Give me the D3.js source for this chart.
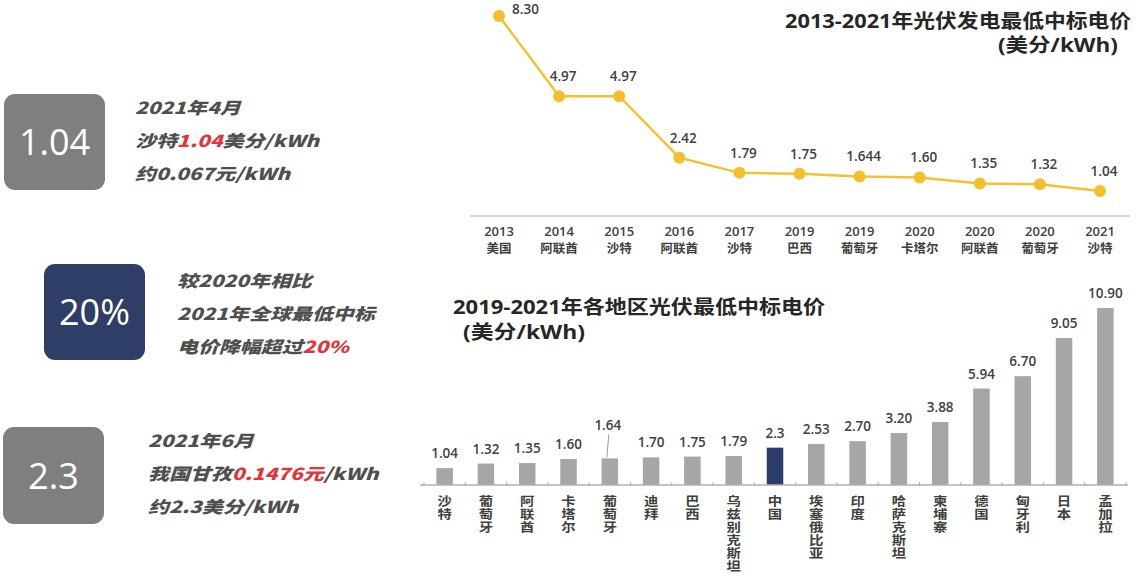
<!DOCTYPE html>
<html>
<head>
<meta charset="utf-8">
<script src="https://cdn.jsdelivr.net/npm/d3@7"></script>
<style>
  body { margin: 0; background: #fff; }
  svg { display: block; font-family: "Open Sans", "Noto Sans CJK SC", sans-serif; }
  .note { font-family: "Noto Sans CJK SC", sans-serif; font-style: italic; font-weight: 900; font-size: 16.5px; fill: #4f4f4f; }
  .red { fill: #e0353b; }
  .vlabel { writing-mode: vertical-rl; text-orientation: upright; }
</style>
</head>
<body>
<svg id="chart" width="1144" height="584"></svg>
<script>
// line chart data: lowest winning bid 2013-2021
let lineYears = ['2013', '2014', '2015', '2016', '2017', '2019', '2019', '2020', '2020', '2020', '2021']
let lineCountries = ['美国', '阿联酋', '沙特', '阿联酋', '沙特', '巴西', '葡萄牙', '卡塔尔', '阿联酋', '葡萄牙', '沙特']
let lineValues = [8.30, 4.97, 4.97, 2.42, 1.79, 1.75, 1.644, 1.60, 1.35, 1.32, 1.04]
let lineLabels = ['8.30', '4.97', '4.97', '2.42', '1.79', '1.75', '1.644', '1.60', '1.35', '1.32', '1.04']

// bar chart data: lowest bids by region 2019-2021
let barCountries = ['沙特', '葡萄牙', '阿联酋', '卡塔尔', '葡萄牙', '迪拜', '巴西', '乌兹别克斯坦', '中国', '埃塞俄比亚', '印度', '哈萨克斯坦', '柬埔寨', '德国', '匈牙利', '日本', '孟加拉']
let barValues = [1.04, 1.32, 1.35, 1.60, 1.64, 1.70, 1.75, 1.79, 2.3, 2.53, 2.70, 3.20, 3.88, 5.94, 6.70, 9.05, 10.90]
let barLabels = ['1.04', '1.32', '1.35', '1.60', '1.64', '1.70', '1.75', '1.79', '2.3', '2.53', '2.70', '3.20', '3.88', '5.94', '6.70', '9.05', '10.90']

let svg = d3.select('svg#chart')

// ---------- left side note boxes ----------
let boxes = [
  {x: 4, y: 94, w: 101, h: 96, fill: '#7f7f7f', big: '1.04', tx: 135, lines: [
    [['2021年4月', '']],
    [['沙特', ''], ['1.04', 'red'], ['美分/kWh', '']],
    [['约0.067元/kWh', '']]
  ], ly: 114},
  {x: 44, y: 264, w: 101, h: 96, fill: '#2e3e66', big: '20%', tx: 177, lines: [
    [['较2020年相比', '']],
    [['2021年全球最低中标', '']],
    [['电价降幅超过', ''], ['20%', 'red']]
  ], ly: 287},
  {x: 3, y: 427, w: 101, h: 97, fill: '#7f7f7f', big: '2.3', tx: 148, lines: [
    [['2021年6月', '']],
    [['我国甘孜', ''], ['0.1476元', 'red'], ['/kWh', '']],
    [['约2.3美分/kWh', '']]
  ], ly: 447}
]

boxes.forEach(b => {
  svg.append('rect')
    .attr('x', b.x).attr('y', b.y)
    .attr('width', b.w).attr('height', b.h)
    .attr('rx', 11)
    .attr('fill', b.fill)
  svg.append('text')
    .attr('x', b.x + b.w / 2)
    .attr('y', b.y + b.h / 2 + 13)
    .attr('text-anchor', 'middle')
    .attr('font-size', 36)
    .attr('fill', '#fff')
    .text(b.big)
  b.lines.forEach((parts, i) => {
    // the source text is stretched sideways
    let t = svg.append('text')
      .attr('class', 'note')
      .attr('transform', `translate(${b.tx}, ${b.ly + i * 33}) scale(1.27, 1)`)
    parts.forEach(p => t.append('tspan').attr('class', p[1]).text(p[0]))
  })
})

// ---------- line chart ----------
let lx = d3.scalePoint()
  .domain(d3.range(lineValues.length))
  .range([499, 1100])

let ly = d3.scaleLinear()
  .domain([0, 8.30])
  .range([216, 16])

svg.append('line')
  .attr('x1', 470).attr('x2', 1130)
  .attr('y1', ly(0)).attr('y2', ly(0))
  .attr('stroke', '#c8c8c8')
  .attr('stroke-width', 1.5)

svg.append('path')
  .datum(lineValues)
  .attr('fill', 'none')
  .attr('stroke', '#f1c232')
  .attr('stroke-width', 2.5)
  .attr('d', d3.line().x((d, i) => lx(i)).y(d => ly(d)))

svg.selectAll('.dot')
  .data(lineValues)
  .enter()
  .append('circle')
  .attr('class', 'dot')
  .attr('cx', (d, i) => lx(i))
  .attr('cy', d => ly(d))
  .attr('r', 6)
  .attr('fill', '#f4bf2a')

svg.selectAll('.lval')
  .data(lineValues)
  .enter()
  .append('text')
  .attr('class', 'lval')
  .attr('x', (d, i) => i === 0 ? lx(i) + 13 : lx(i) + 4)
  .attr('y', (d, i) => i === 0 ? ly(d) - 2 : ly(d) - 15)
  .attr('text-anchor', (d, i) => i === 0 ? 'start' : 'middle')
  .attr('font-size', 13.5)
  .attr('font-weight', 600)
  .attr('fill', '#404040')
  .text((d, i) => lineLabels[i])

// x labels: year on top, country below
svg.selectAll('.lyear')
  .data(lineYears)
  .enter()
  .append('text')
  .attr('class', 'lyear')
  .attr('x', (d, i) => lx(i))
  .attr('y', 236)
  .attr('text-anchor', 'middle')
  .attr('font-size', 13)
  .attr('font-weight', 600)
  .attr('fill', '#404040')
  .text(d => d)

svg.selectAll('.lcountry')
  .data(lineCountries)
  .enter()
  .append('text')
  .attr('class', 'lcountry')
  .attr('x', (d, i) => lx(i))
  .attr('y', 253)
  .attr('text-anchor', 'middle')
  .attr('font-family', 'Noto Sans CJK SC')
  .attr('font-size', 12.5)
  .attr('font-weight', 600)
  .attr('fill', '#404040')
  .text(d => d)

svg.append('text')
  .attr('x', 785).attr('y', 28)
  .attr('textLength', 346)
  .attr('lengthAdjust', 'spacingAndGlyphs')
  .attr('font-size', 19)
  .attr('font-weight', 'bold')
  .attr('fill', '#262626')
  .text('2013-2021年光伏发电最低中标电价')
svg.append('text')
  .attr('x', 998).attr('y', 52)
  .attr('textLength', 120)
  .attr('lengthAdjust', 'spacingAndGlyphs')
  .attr('font-size', 19)
  .attr('font-weight', 'bold')
  .attr('fill', '#262626')
  .text('(美分/kWh)')

// ---------- bar chart ----------
let bx = d3.scaleBand()
  .domain(d3.range(barValues.length))
  .range([424, 1126])
  .paddingInner(0.6)
  .paddingOuter(0.3)

let by = d3.scaleLinear()
  .domain([0, 10.90])
  .range([485, 308])

svg.selectAll('.bar')
  .data(barValues)
  .enter()
  .append('rect')
  .attr('class', 'bar')
  .attr('x', (d, i) => bx(i))
  .attr('y', d => by(d))
  .attr('width', bx.bandwidth())
  .attr('height', d => by(0) - by(d))
  .attr('fill', (d, i) => barCountries[i] === '中国' ? '#2b3d6b' : '#a6a6a6')

// axis line with small ticks between bars
svg.append('line')
  .attr('x1', 420).attr('x2', 1128)
  .attr('y1', by(0)).attr('y2', by(0))
  .attr('stroke', '#b0b0b0')
  .attr('stroke-width', 1.5)
svg.selectAll('.btick')
  .data(d3.range(barValues.length + 1))
  .enter()
  .append('line')
  .attr('class', 'btick')
  .attr('x1', i => bx.range()[0] + i * bx.step())
  .attr('x2', i => bx.range()[0] + i * bx.step())
  .attr('y1', by(0) - 3).attr('y2', by(0) + 1)
  .attr('stroke', '#b0b0b0')

// value labels (the 1.64 label is lifted with a leader line)
svg.selectAll('.bval')
  .data(barValues)
  .enter()
  .append('text')
  .attr('class', 'bval')
  .attr('x', (d, i) => bx(i) + bx.bandwidth() / 2 + (i === 4 ? -2 : 0))
  .attr('y', (d, i) => i === 4 ? by(d) - 28 : by(d) - 10)
  .attr('text-anchor', 'middle')
  .attr('font-size', 13.5)
  .attr('font-weight', 600)
  .attr('fill', '#404040')
  .text((d, i) => barLabels[i])
svg.append('line')
  .attr('x1', bx(4) + bx.bandwidth() / 2 - 1)
  .attr('x2', bx(4) + bx.bandwidth() / 2 - 3)
  .attr('y1', by(1.64) - 24)
  .attr('y2', by(1.64) - 1)
  .attr('stroke', '#9a9a9a')

// vertical category labels, written top to bottom
svg.selectAll('.bxl')
  .data(barCountries)
  .enter()
  .append('text')
  .attr('class', 'bxl vlabel')
  .attr('transform', (d, i) => `translate(${bx(i) + bx.bandwidth() / 2}, 495) scale(1.15, 1)`)
  .attr('x', 0)
  .attr('y', 0)
  .attr('letter-spacing', 0.5)
  .attr('font-family', 'Noto Sans CJK SC')
  .attr('font-size', 12.5)
  .attr('font-weight', 'bold')
  .attr('fill', '#404040')
  .text(d => d)

svg.append('text')
  .attr('x', 453).attr('y', 314)
  .attr('textLength', 372)
  .attr('lengthAdjust', 'spacingAndGlyphs')
  .attr('font-size', 19.5)
  .attr('font-weight', 'bold')
  .attr('fill', '#262626')
  .text('2019-2021年各地区光伏最低中标电价')
svg.append('text')
  .attr('x', 463).attr('y', 339)
  .attr('textLength', 122)
  .attr('lengthAdjust', 'spacingAndGlyphs')
  .attr('font-size', 19)
  .attr('font-weight', 'bold')
  .attr('fill', '#262626')
  .text('(美分/kWh)')
</script>
</body>
</html>
